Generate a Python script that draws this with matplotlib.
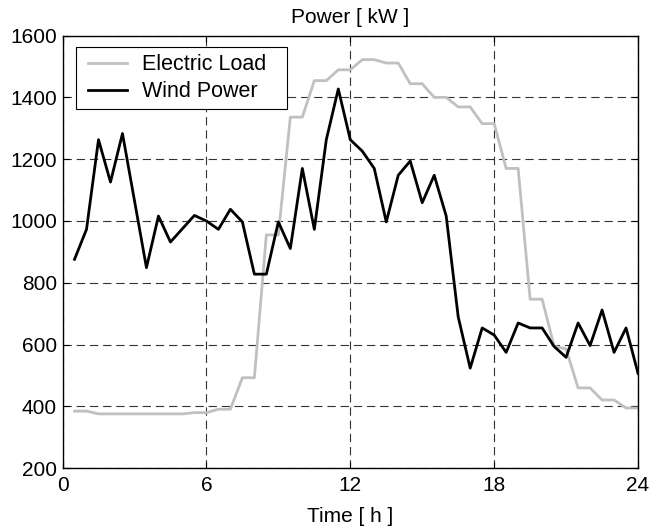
# electric load vs wind power over one day (half-hour steps)

import numpy as np
import matplotlib.pyplot as plt
from matplotlib.lines import Line2D
from matplotlib.legend_handler import HandlerLine2D

plt.rcParams['font.family'] = ['Liberation Sans', 'DejaVu Sans']
plt.rcParams['lines.scale_dashes'] = False

hours = np.arange(1, 49) * 0.5

load = [385, 385, 376, 376, 376, 376, 376, 376, 376, 376,
        380, 380, 391, 391, 493, 493, 955, 955, 1336, 1336,
        1454, 1454, 1489, 1489, 1522, 1522, 1511, 1511, 1444, 1444,
        1400, 1400, 1369, 1369, 1315, 1315, 1170, 1170, 747, 747,
        595, 586, 460, 460, 421, 421, 395, 395]

wind = [876, 973, 1263, 1126, 1283, 1066, 849, 1016, 932, 975,
        1018, 1000, 973, 1038, 997, 828, 828, 997, 911, 1170,
        973, 1263, 1427, 1263, 1226, 1170, 997, 1148, 1194, 1059,
        1148, 1016, 690, 524, 654, 631, 575, 670, 654, 654,
        594, 559, 670, 597, 712, 575, 654, 507]

xticks = [0, 6, 12, 18, 24]
yticks = [200, 400, 600, 800, 1000, 1200, 1400, 1600]

fig = plt.figure(figsize=(6.52, 5.31), dpi=100)
ax = fig.add_axes([0.0959, 0.1181, 0.8827, 0.815])

ax.plot(hours, load, color='#c0c0c0', lw=2.0, label='Electric Load')
ax.plot(hours, wind, color='black', lw=2.0, label='Wind Power')

ax.set_xlim(0, 24)
ax.set_ylim(200, 1600)
ax.set_xticks(xticks)
ax.set_yticks(yticks)
ax.grid(True, color='#333333', lw=0.8, dashes=(6, 3.5))
ax.tick_params(direction='in', length=4.5, top=True, right=True, labelsize=15)
ax.tick_params(axis='x', pad=5.5)
ax.tick_params(axis='y', pad=4)
for s in ax.spines.values():
    s.set_linewidth(1.0)

ax.set_title('Power [ kW ]', fontsize=15, pad=8.8)
ax.set_xlabel('Time [ h ]', fontsize=15, labelpad=8.5)

leg = ax.legend(loc='upper left', fontsize=15.5, fancybox=False, edgecolor='black',
                framealpha=1, borderpad=0.32, handlelength=2.3, handletextpad=0.45,
                labelspacing=0.28, borderaxespad=0, mode='expand',
                bbox_to_anchor=(0.0229, 0.5, 0.3666, 0.4727),
                handler_map={Line2D: HandlerLine2D(numpoints=2, marker_pad=0.24)})
leg.get_frame().set_linewidth(0.8)

fig.savefig('out.png', dpi=100)
